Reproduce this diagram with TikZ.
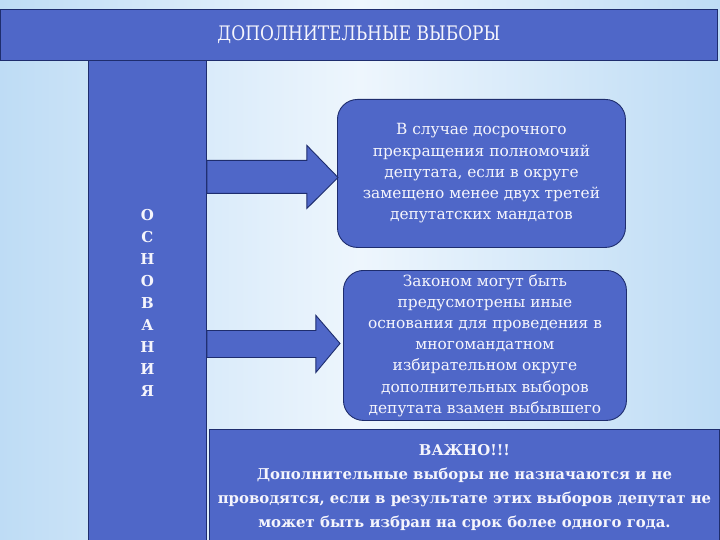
\documentclass[tikz,border=0pt]{standalone}
\usepackage{fontspec}
\setmainfont{DejaVu Serif}
\usetikzlibrary{calc}
\usetikzlibrary{positioning}

\definecolor{boxblue}{RGB}{79,103,200}
\definecolor{edgeblue}{RGB}{30,45,110}
\definecolor{skyleft}{RGB}{190,220,245}
\definecolor{skymid}{RGB}{238,246,253}
\definecolor{txtwhite}{RGB}{245,245,252}

\begin{document}
\begin{tikzpicture}[x=1pt,y=-1pt,
  panel/.style={draw=edgeblue, line width=0.9pt, fill=boxblue, text=txtwhite, inner sep=0pt},
  roundbox/.style={panel, rounded corners=20pt, minimum width=288pt, align=center, font=\fontsize{15.4}{21.2}\selectfont},
  blockarr/.style={draw=edgeblue, line width=0.9pt, fill=boxblue}
]
\useasboundingbox (0,0) rectangle (720,540);
\shade[left color=skyleft, right color=skyleft, middle color=skymid] (0,0) rectangle (720,540);

\node[panel, anchor=north west, minimum width=717pt, minimum height=51pt,
  font=\addfontfeature{FakeStretch=0.85}\fontsize{20}{24}\selectfont] (title) at (0,9) {ДОПОЛНИТЕЛЬНЫЕ ВЫБОРЫ};

\node[panel, anchor=north west, minimum width=118pt, minimum height=485pt, align=center,
  font=\bfseries\fontsize{15}{21.9}\selectfont] (col) at (88,60) {О\\С\\Н\\О\\В\\А\\Н\\И\\Я};

\node[roundbox, anchor=north west, minimum height=148pt] (b1) at (337,99)
  {В случае досрочного\\прекращения полномочий\\депутата, если в округе\\замещено менее двух третей\\депутатских мандатов};
\node[roundbox, anchor=north west, minimum width=283pt, minimum height=150pt] (b2) at (343,270)
  {Законом могут быть\\предусмотрены иные\\основания для проведения в\\многомандатном\\избирательном округе\\дополнительных выборов\\депутата взамен выбывшего};

\node[panel, anchor=north west, minimum width=510pt, minimum height=116pt, align=center,
  font=\bfseries\fontsize{14.9}{24.2}\selectfont] (note) at (209,429)
  {ВАЖНО!!!\\Дополнительные выборы не назначаются и не\\проводятся, если в результате этих выборов депутат не\\может быть избран на срок более одного года.};

% arrows from the column to the boxes
\draw[blockarr] ($(col.east |- b1.west)+(0,-13)$) -- ++(100,0) -- ++(0,-15) -- ($(b1.west)+(1,4)$)
  -- ($(col.east |- b1.west)+(100,35)$) -- ++(0,-15) -- ++(-100,0) -- cycle;
\draw[blockarr] ($(col.east |- b2.west)+(0,-15)$) -- ++(109,0) -- ++(0,-15) -- ($(b2.west)+(-3,-2)$)
  -- ($(col.east |- b2.west)+(109,27)$) -- ++(0,-15) -- ++(-109,0) -- cycle;

\end{tikzpicture}
\end{document}
